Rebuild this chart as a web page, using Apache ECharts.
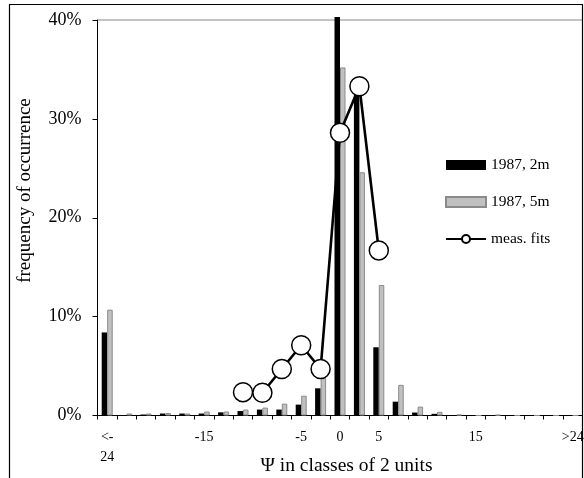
<!DOCTYPE html>
<html>
<head>
<meta charset="utf-8">
<script src="https://cdn.jsdelivr.net/npm/echarts@6/dist/echarts.min.js"></script>
<style>
html,body{margin:0;padding:0;background:#fff;}
#chart{width:584px;height:478px;}
</style>
</head>
<body>
<div id="chart"></div>
<script>
// Classes of 2 units (index 0 = "<-24", index 24 = ">24")
var categories = ["<-24","-22","-20","-18","-16","-14","-12","-10","-8","-6","-4","-2","0","2","4","6","8","10","12","14","16","18","20","22",">24"];
var tickLabels = ["<-\n24","","","","","-15","","","","","-5","","0","","5","","","","","15","","","","",">24"];
var series2m = [8.4,0.05,0.1,0.2,0.2,0.2,0.32,0.45,0.6,0.6,1.1,2.75,40.3,33,6.9,1.4,0.3,0.17,0.05,0,0,0,0,0,0];
var series5m = [10.7,0.2,0.2,0.25,0.2,0.4,0.4,0.6,0.8,1.2,2.0,4.0,35.2,24.6,13.2,3.1,0.9,0.37,0.1,0,0.07,0,0,0,0];
var measFits = [null,null,null,null,null,null,null,2.36,2.3,4.7,7.1,4.7,28.6,33.3,16.7,null,null,null,null,null,null,null,null,null,null];
var yTicks = [0,10,20,30,40];

var FONT = "'Liberation Serif','Times New Roman',serif";
var chart = echarts.init(document.getElementById('chart'), null, {renderer:'canvas'});
chart.setOption({
  animation:false,
  backgroundColor:'#fff',
  grid:{left:97.5,right:1.5,top:20,bottom:62.5,show:true,borderColor:'#888',borderWidth:1,backgroundColor:'transparent',
    containLabel:false,outerBoundsMode:'none'},
  legend:{
    orient:'vertical',left:445,top:157,padding:0,itemWidth:40,itemHeight:10,itemGap:21,
    textStyle:{fontFamily:FONT,fontSize:15.5,color:'#000'},
    data:[
      {name:'1987, 2m',icon:'rect'},
      {name:'1987, 5m',icon:'rect'},
      {name:'meas. fits'}
    ]
  },
  xAxis:{
    type:'category',data:categories,boundaryGap:true,
    axisLine:{lineStyle:{color:'#000',width:1}},
    axisTick:{show:true,length:4,interval:0,lineStyle:{color:'#000'}},
    axisLabel:{interval:0,hideOverlap:false,margin:12,fontFamily:FONT,fontSize:14,color:'#000',lineHeight:20,
      formatter:function(v,i){return tickLabels[i];}},
    splitLine:{show:false}
  },
  yAxis:{
    type:'value',min:0,max:40,interval:10,
    axisLine:{show:true,lineStyle:{color:'#000',width:1}},
    axisTick:{show:true,length:5,lineStyle:{color:'#000'}},
    axisLabel:{margin:16,fontFamily:FONT,fontSize:18,color:'#000',formatter:'{value}%'},
    splitLine:{show:false}
  },
  graphic:[
    {type:'text',x:25.5,y:190.5,rotation:Math.PI/2,
      style:{text:'frequency of occurrence',font:"19px 'Liberation Serif'",fill:'#000',align:'center',verticalAlign:'middle'}},
    {type:'text',x:346.5,y:466,
      style:{text:'Ψ in classes of 2 units',font:"19.5px 'Liberation Serif'",fill:'#000',align:'center',verticalAlign:'middle'}},
    {type:'rect',shape:{x:9.5,y:4.5,width:573,height:490},style:{fill:'none',stroke:'#000',lineWidth:1.2},z:100}
  ],
  series:[
    {name:'1987, 2m',type:'bar',data:series2m,barWidth:5.5,barGap:'0%',clip:false,
      itemStyle:{color:'#000'}},
    {name:'1987, 5m',type:'bar',data:series5m,barWidth:5.5,barGap:'0%',clip:false,
      itemStyle:{color:'#c0c0c0',borderColor:'#8a8a8a',borderWidth:1}},
    {name:'meas. fits',type:'line',data:measFits,connectNulls:false,symbol:'circle',symbolSize:19,
      z:5,
      lineStyle:{color:'#000',width:2.6},
      itemStyle:{color:'#fff',borderColor:'#000',borderWidth:1.5}}
  ]
});
</script>
</body>
</html>
